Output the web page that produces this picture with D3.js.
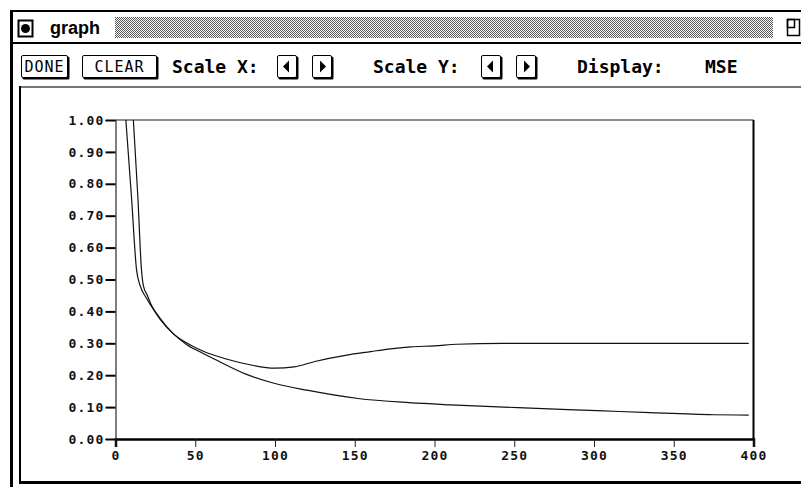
<!DOCTYPE html>
<html>
<head>
<meta charset="utf-8">
<script src="https://cdn.jsdelivr.net/npm/d3@7/dist/d3.min.js"></script>
<style>
body { margin: 0; background: #fff; }
svg { display: block; }
</style>
</head>
<body>
<svg id="chart" width="801" height="487"></svg>
<script>
// data

var epochTicks = [0, 50, 100, 150, 200, 250, 300, 350, 400];
var mseTicks = [0, 0.1, 0.2, 0.3, 0.4, 0.5, 0.6, 0.7, 0.8, 0.9, 1.0];

var trainEpoch = [6.5, 10, 13.2, 15.5, 19, 22, 28, 36, 45, 55, 65, 81, 100, 120, 152, 184, 210, 264, 302, 335, 375, 397];
var trainMse   = [1.0, 0.76, 0.53, 0.48, 0.445, 0.42, 0.375, 0.331, 0.295, 0.268, 0.243, 0.205, 0.174, 0.153, 0.127, 0.114, 0.107, 0.096, 0.089, 0.0825, 0.076, 0.075];

var testEpoch = [11.2, 14, 16.3, 17.5, 20, 22, 28, 36, 45, 55, 70, 85, 100, 112, 125, 145, 160, 171, 185, 200, 214, 243, 270, 397];
var testMse   = [1.0, 0.76, 0.53, 0.48, 0.45, 0.425, 0.378, 0.331, 0.30, 0.275, 0.25, 0.232, 0.222, 0.226, 0.243, 0.263, 0.274, 0.282, 0.289, 0.292, 0.297, 0.30, 0.30, 0.30];

// toolbar labels

var buttonLabels = ["DONE", "CLEAR"];
var toolLabels = ["Scale X:", "Scale Y:", "Display:", "MSE"];
var toolLabelX = [172, 373, 577, 705];

var mono = "'DejaVu Sans Mono', 'Liberation Mono', monospace";

var svg = d3.select("#chart");

var defs = svg.append("defs");
var stipple = defs.append("pattern")
  .attr("id", "stipple")
  .attr("width", 2)
  .attr("height", 2)
  .attr("patternUnits", "userSpaceOnUse");
stipple.append("rect").attr("width", 2).attr("height", 2).attr("fill", "#fff");
stipple.append("rect").attr("width", 1).attr("height", 1).attr("fill", "#555");
stipple.append("rect").attr("x", 1).attr("y", 1).attr("width", 1).attr("height", 1).attr("fill", "#555");

// window frame

svg.append("rect").attr("x", 10).attr("y", 10).attr("width", 3).attr("height", 477).attr("fill", "#000");
svg.append("rect").attr("x", 10).attr("y", 10).attr("width", 791).attr("height", 2).attr("fill", "#000");
svg.append("rect").attr("x", 10).attr("y", 42).attr("width", 791).attr("height", 2).attr("fill", "#000");

// title bar

svg.append("rect").attr("x", 18.5).attr("y", 20.5).attr("width", 14).attr("height", 16)
  .attr("fill", "#fff").attr("stroke", "#000").attr("stroke-width", 2);
svg.append("circle").attr("cx", 25.5).attr("cy", 28.5).attr("r", 4.5).attr("fill", "#000");

svg.append("text")
  .attr("x", 50).attr("y", 34)
  .style("font-family", "'Liberation Sans', Arial, sans-serif")
  .style("font-weight", "bold")
  .style("font-size", "18px")
  .text("graph");

svg.append("rect").attr("x", 115).attr("y", 17).attr("width", 658).attr("height", 21).attr("fill", "url(#stipple)");

svg.append("rect").attr("x", 787.5).attr("y", 19.5).attr("width", 12).attr("height", 16)
  .attr("fill", "none").attr("stroke", "#000").attr("stroke-width", 1.5);
svg.append("rect").attr("x", 787.5).attr("y", 19.5).attr("width", 7).attr("height", 8)
  .attr("fill", "none").attr("stroke", "#000").attr("stroke-width", 1.5);

// toolbar

function button(x, y, w, h)
{
  svg.append("rect").attr("x", x + 1.5).attr("y", y + 1.5).attr("width", w).attr("height", h)
    .attr("rx", 1.5).attr("fill", "#000");
  svg.append("rect").attr("x", x + 0.5).attr("y", y + 0.5).attr("width", w - 1).attr("height", h - 1)
    .attr("rx", 1.5).attr("fill", "#fff").attr("stroke", "#000").attr("stroke-width", 1);
}

function arrow(x, y, dir)
{
  button(x, y, 20, 23);
  var cx = x + 10, cy = y + 11.5;
  var p = dir < 0
    ? [[cx - 4, cy], [cx + 2, cy - 6], [cx + 2, cy + 6]]
    : [[cx + 4, cy], [cx - 2, cy - 6], [cx - 2, cy + 6]];
  svg.append("path").attr("d", "M" + p.join("L") + "Z").attr("fill", "#000");
}

button(21, 55, 47, 23);
button(82, 55, 75, 23);

svg.append("text").attr("x", 44.5).attr("y", 72)
  .attr("text-anchor", "middle")
  .style("font-family", mono).style("font-size", "15px").style("letter-spacing", "1px")
  .text(buttonLabels[0]);
svg.append("text").attr("x", 119.5).attr("y", 72)
  .attr("text-anchor", "middle")
  .style("font-family", mono).style("font-size", "15px").style("letter-spacing", "1px")
  .text(buttonLabels[1]);

arrow(277, 55, -1);
arrow(312, 55, 1);
arrow(481, 55, -1);
arrow(516, 55, 1);

svg.selectAll(".tool")
  .data(toolLabels)
  .enter()
  .append("text")
  .attr("class", "tool")
  .attr("x", function (d, i) { return toolLabelX[i]; })
  .attr("y", 73)
  .style("font-family", mono)
  .style("font-weight", "bold")
  .style("font-size", "18px")
  .text(function (d) { return d; });

// plot canvas

svg.append("rect").attr("x", 19).attr("y", 86).attr("width", 782).attr("height", 2).attr("fill", "#777");
svg.append("rect").attr("x", 19).attr("y", 86).attr("width", 2).attr("height", 398).attr("fill", "#000");
svg.append("rect").attr("x", 19).attr("y", 481).attr("width", 782).attr("height", 3).attr("fill", "#000");

// scales

var x = d3.scaleLinear().domain([0, 400]).range([115.5, 753.5]);
var y = d3.scaleLinear().domain([0, 1]).range([439, 120]);

// frame of the plot

svg.append("line").attr("x1", x(0)).attr("x2", x(400)).attr("y1", y(1)).attr("y2", y(1))
  .attr("stroke", "#666").attr("stroke-width", 1.5);
svg.append("line").attr("x1", x(400)).attr("x2", x(400)).attr("y1", y(1)).attr("y2", y(0))
  .attr("stroke", "#000").attr("stroke-width", 2);

// axes

var yAxis = svg.append("g")
  .attr("transform", "translate(" + x(0) + ",0)")
  .call(d3.axisLeft(y).tickValues(mseTicks).tickFormat(d3.format(".2f")).tickSize(10).tickPadding(1));

yAxis.select(".domain").attr("stroke", "#000").attr("stroke-width", 1);
yAxis.selectAll(".tick line").attr("stroke", "#000").attr("stroke-width", 2);
yAxis.selectAll("text")
  .style("font-family", mono).style("font-weight", "bold")
  .style("font-size", "13px").style("letter-spacing", "1.2px")
  .attr("fill", "#111");

var xAxis = svg.append("g")
  .attr("transform", "translate(0," + y(0) + ")")
  .call(d3.axisBottom(x).tickValues(epochTicks).tickSize(8).tickPadding(4));

xAxis.select(".domain").attr("stroke", "#000").attr("stroke-width", 2.5);
xAxis.selectAll(".tick line").attr("stroke", "#222").attr("stroke-width", 1);
xAxis.selectAll("text")
  .style("font-family", mono).style("font-weight", "bold")
  .style("font-size", "13px").style("letter-spacing", "1.2px")
  .attr("fill", "#111");

// curves

var line = d3.line()
  .x(function (d) { return x(d[0]); })
  .y(function (d) { return y(d[1]); })
  .curve(d3.curveMonotoneX);

svg.append("path")
  .datum(d3.zip(trainEpoch, trainMse))
  .attr("d", line)
  .attr("fill", "none").attr("stroke", "#111").attr("stroke-width", 1.2);

svg.append("path")
  .datum(d3.zip(testEpoch, testMse))
  .attr("d", line)
  .attr("fill", "none").attr("stroke", "#111").attr("stroke-width", 1.2);
</script>
</body>
</html>
